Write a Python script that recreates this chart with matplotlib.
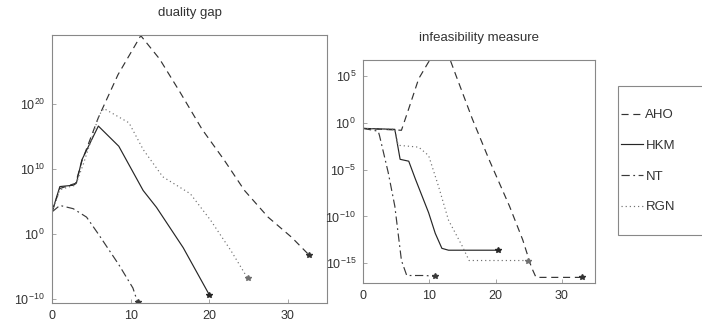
import numpy as np
import matplotlib
matplotlib.use("Agg")
import matplotlib.pyplot as plt
from matplotlib.patches import Rectangle

plt.rcParams['font.family'] = ['Liberation Sans', 'DejaVu Sans']
plt.rcParams['mathtext.default'] = 'regular'

methods = ['AHO', 'HKM', 'NT', 'RGN']

# duality gap: iteration and log10 of the value
gap_x = {
    'AHO': [0, 1, 2, 3, 3.8, 5.9, 8.4, 11.3, 13.7, 16.3, 19.1, 21.9, 24.5, 27.5, 30.5, 32.7],
    'HKM': [0, 1.0, 2.7, 3.1, 3.8, 5.9, 8.5, 11.6, 13.3, 16.7, 20],
    'NT':  [0, 1.0, 2.7, 4.4, 5.9, 8.5, 10.3, 10.9],
    'RGN': [0, 1, 2, 3, 4, 5, 6, 6.6, 9.8, 11.6, 14.1, 17.6, 20.2, 22.8, 24.9],
}
gap_exp = {
    'AHO': [3.4, 7.0, 7.4, 7.8, 11.2, 17.9, 24.5, 30.5, 26.9, 21.8, 16.1, 11.4, 6.7, 2.6, -0.5, -3.2],
    'HKM': [3.4, 7.3, 7.5, 7.8, 11.4, 16.6, 13.5, 6.7, 4.1, -2.1, -9.3],
    'NT':  [3.4, 4.4, 3.9, 2.6, 0.0, -4.7, -8.3, -10.5],
    'RGN': [3.4, 6.8, 7.2, 7.5, 10.8, 14.5, 18.3, 19.3, 17.1, 13.0, 8.8, 6.2, 2.1, -2.6, -6.8],
}

# infeasibility measure
inf_x = {
    'AHO': [0, 5.8, 6.9, 8.4, 9.9, 11, 12, 13, 14, 16.5, 19, 22.1, 24.1, 25.4, 26.1, 33],
    'HKM': [0, 4.8, 5.6, 6.9, 7.9, 9.9, 10.9, 11.9, 12.9, 20.3],
    'NT':  [0, 2.3, 2.5, 3.8, 4.8, 5.8, 6.6, 9.4, 10.9],
    'RGN': [0, 4.8, 5.3, 8.4, 9.9, 11.4, 12.9, 15, 16, 24.9],
}
inf_exp = {
    'AHO': [-0.6, -0.8, 1.5, 4.7, 6.5, 7.2, 7.5, 7.0, 5.1, 0.4, -3.9, -8.9, -12.5, -15.4, -16.5, -16.5],
    'HKM': [-0.6, -0.7, -3.9, -4.1, -6.0, -9.6, -11.8, -13.4, -13.6, -13.6],
    'NT':  [-0.6, -0.9, -1.4, -5.3, -8.9, -14.7, -16.3, -16.3, -16.4],
    'RGN': [-0.6, -0.7, -2.4, -2.6, -3.5, -6.8, -10.4, -13.2, -14.7, -14.7],
}

gap_ticks = [-10, 0, 10, 20]
inf_ticks = [-15, -10, -5, 0, 5]
x_ticks = [0, 10, 20, 30]

styles = {
    'AHO': dict(color='#333333', linestyle=(0, (6, 4))),
    'HKM': dict(color='#262626', linestyle='-'),
    'NT':  dict(color='#3a3a3a', linestyle=(0, (7, 3, 1.5, 3))),
    'RGN': dict(color='#707070', linestyle=(0, (1, 2.5))),
}

fig = plt.figure(figsize=(7.02, 3.26), dpi=100)
ax1 = fig.add_axes([52 / 702, 1 - 303 / 326, 275 / 702, 268 / 326])
ax2 = fig.add_axes([363 / 702, 1 - 283 / 326, 232 / 702, 223 / 326])


def draw(ax, xs, exps, ticks, ylim, title):
    for m in methods:
        ax.semilogy(xs[m], 10.0 ** np.array(exps[m]), linewidth=0.85,
                    marker='*', markevery=[-1], markersize=4, label=m, **styles[m])
    ax.set_xlim(0, 35)
    ax.set_ylim(10.0 ** ylim[0], 10.0 ** ylim[1])
    ax.set_xticks(x_ticks)
    ax.set_yticks([10.0 ** t for t in ticks])
    ax.set_yticklabels(['$10^{%d}$' % t for t in ticks])
    ax.minorticks_off()
    ax.tick_params(direction='in', length=3, width=0.6, color='#999999',
                   labelsize=9, labelcolor='#333333', pad=5)
    for s in ax.spines.values():
        s.set_color('#888888')
        s.set_linewidth(0.8)
    ax.set_title(title, fontsize=9.5, color='#333333', pad=14)


draw(ax1, gap_x, gap_exp, gap_ticks, (-10.6, 30.6), 'duality gap')
draw(ax2, inf_x, inf_exp, inf_ticks, (-17.1, 6.7), 'infeasibility measure')

# legend box runs off the right edge, as in the original
fig.patches.append(Rectangle((618 / 702, 1 - 235 / 326), 0.15, 149 / 326,
                             transform=fig.transFigure, facecolor='white',
                             edgecolor='#888888', linewidth=0.8))
handles, labels = ax2.get_legend_handles_labels()
leg = fig.legend(handles, labels, loc='upper left',
                 bbox_to_anchor=(621 / 702, 1 - 109 / 326),
                 fontsize=9.5, handlelength=1.7, handletextpad=0.15,
                 labelspacing=1.4, borderpad=0, frameon=False, borderaxespad=0)
for h in leg.legend_handles:
    h.set_marker('')
for t in leg.get_texts():
    t.set_color('#333333')

fig.savefig('out.png', dpi=100)
